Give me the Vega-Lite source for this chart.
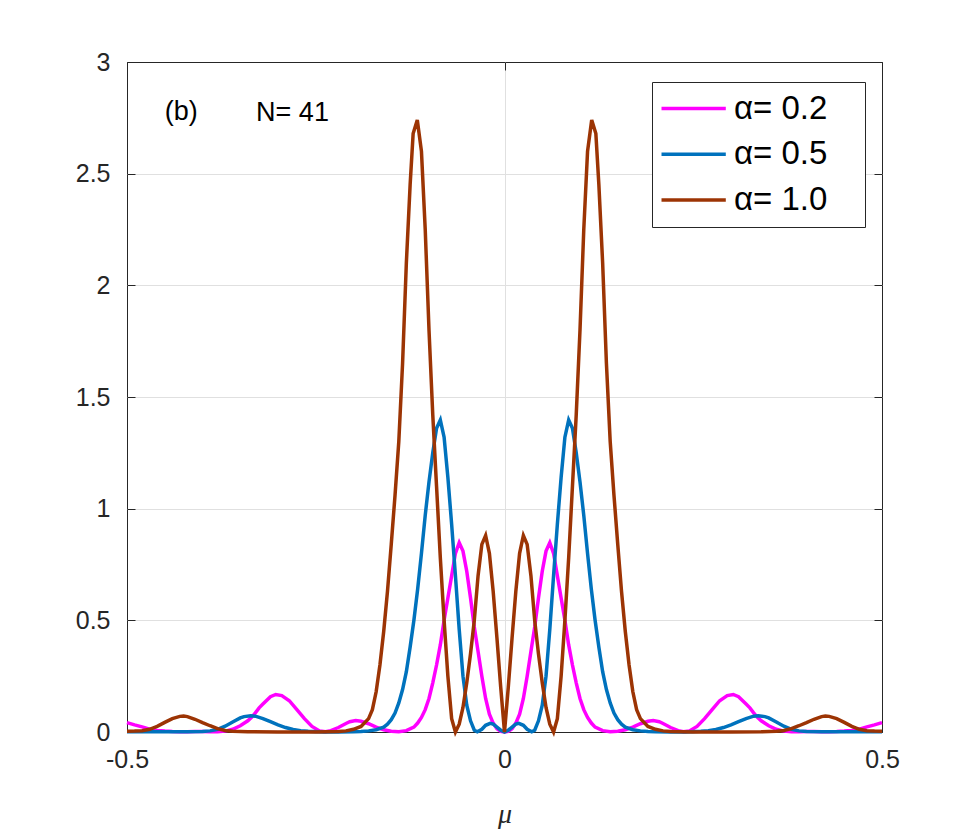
{
  "$schema": "https://vega.github.io/schema/vega-lite/v6.json",
  "width": 755,
  "height": 670,
  "autosize": {"type": "none"},
  "padding": {"left": 127, "top": 62, "right": 93, "bottom": 98},
  "background": "white",
  "config": {
    "view": {"stroke": "#262626", "strokeWidth": 1},
    "font": "Liberation Sans"
  },
  "data": {
    "values": [
      {"alpha": "α= 0.2", "mu": -0.5, "v": 0.042},
      {"alpha": "α= 0.2", "mu": -0.49, "v": 0.032},
      {"alpha": "α= 0.2", "mu": -0.48, "v": 0.023},
      {"alpha": "α= 0.2", "mu": -0.47, "v": 0.013},
      {"alpha": "α= 0.2", "mu": -0.46, "v": 0.007},
      {"alpha": "α= 0.2", "mu": -0.45, "v": 0.004},
      {"alpha": "α= 0.2", "mu": -0.44, "v": 0.002},
      {"alpha": "α= 0.2", "mu": -0.43, "v": 0.001},
      {"alpha": "α= 0.2", "mu": -0.42, "v": 0.001},
      {"alpha": "α= 0.2", "mu": -0.41, "v": 0.002},
      {"alpha": "α= 0.2", "mu": -0.4, "v": 0.002},
      {"alpha": "α= 0.2", "mu": -0.39, "v": 0.001},
      {"alpha": "α= 0.2", "mu": -0.38, "v": 0.001},
      {"alpha": "α= 0.2", "mu": -0.37, "v": 0.004},
      {"alpha": "α= 0.2", "mu": -0.36, "v": 0.012},
      {"alpha": "α= 0.2", "mu": -0.35, "v": 0.028},
      {"alpha": "α= 0.2", "mu": -0.34, "v": 0.05},
      {"alpha": "α= 0.2", "mu": -0.335, "v": 0.066},
      {"alpha": "α= 0.2", "mu": -0.33, "v": 0.086},
      {"alpha": "α= 0.2", "mu": -0.325, "v": 0.108},
      {"alpha": "α= 0.2", "mu": -0.32, "v": 0.125},
      {"alpha": "α= 0.2", "mu": -0.31, "v": 0.158},
      {"alpha": "α= 0.2", "mu": -0.303, "v": 0.168},
      {"alpha": "α= 0.2", "mu": -0.295, "v": 0.163},
      {"alpha": "α= 0.2", "mu": -0.285, "v": 0.14},
      {"alpha": "α= 0.2", "mu": -0.275, "v": 0.1},
      {"alpha": "α= 0.2", "mu": -0.265, "v": 0.06},
      {"alpha": "α= 0.2", "mu": -0.255, "v": 0.025},
      {"alpha": "α= 0.2", "mu": -0.245, "v": 0.005},
      {"alpha": "α= 0.2", "mu": -0.237, "v": 0.001},
      {"alpha": "α= 0.2", "mu": -0.23, "v": 0.006},
      {"alpha": "α= 0.2", "mu": -0.22, "v": 0.02},
      {"alpha": "α= 0.2", "mu": -0.21, "v": 0.038},
      {"alpha": "α= 0.2", "mu": -0.205, "v": 0.046},
      {"alpha": "α= 0.2", "mu": -0.197, "v": 0.051},
      {"alpha": "α= 0.2", "mu": -0.19, "v": 0.048},
      {"alpha": "α= 0.2", "mu": -0.18, "v": 0.037},
      {"alpha": "α= 0.2", "mu": -0.17, "v": 0.022},
      {"alpha": "α= 0.2", "mu": -0.16, "v": 0.01},
      {"alpha": "α= 0.2", "mu": -0.15, "v": 0.003},
      {"alpha": "α= 0.2", "mu": -0.14, "v": 0.001},
      {"alpha": "α= 0.2", "mu": -0.13, "v": 0.006},
      {"alpha": "α= 0.2", "mu": -0.12, "v": 0.022},
      {"alpha": "α= 0.2", "mu": -0.115, "v": 0.04},
      {"alpha": "α= 0.2", "mu": -0.11, "v": 0.065},
      {"alpha": "α= 0.2", "mu": -0.105, "v": 0.1},
      {"alpha": "α= 0.2", "mu": -0.1, "v": 0.15},
      {"alpha": "α= 0.2", "mu": -0.095, "v": 0.22},
      {"alpha": "α= 0.2", "mu": -0.09, "v": 0.3},
      {"alpha": "α= 0.2", "mu": -0.085, "v": 0.39},
      {"alpha": "α= 0.2", "mu": -0.08, "v": 0.5},
      {"alpha": "α= 0.2", "mu": -0.075, "v": 0.6},
      {"alpha": "α= 0.2", "mu": -0.07, "v": 0.7},
      {"alpha": "α= 0.2", "mu": -0.065, "v": 0.8},
      {"alpha": "α= 0.2", "mu": -0.06, "v": 0.848},
      {"alpha": "α= 0.2", "mu": -0.055, "v": 0.81},
      {"alpha": "α= 0.2", "mu": -0.05, "v": 0.72},
      {"alpha": "α= 0.2", "mu": -0.045, "v": 0.6},
      {"alpha": "α= 0.2", "mu": -0.04, "v": 0.47},
      {"alpha": "α= 0.2", "mu": -0.035, "v": 0.36},
      {"alpha": "α= 0.2", "mu": -0.03, "v": 0.25},
      {"alpha": "α= 0.2", "mu": -0.025, "v": 0.15},
      {"alpha": "α= 0.2", "mu": -0.02, "v": 0.08},
      {"alpha": "α= 0.2", "mu": -0.015, "v": 0.04},
      {"alpha": "α= 0.2", "mu": -0.01, "v": 0.015},
      {"alpha": "α= 0.2", "mu": -0.005, "v": 0.003},
      {"alpha": "α= 0.2", "mu": 0, "v": 0},
      {"alpha": "α= 0.2", "mu": 0.005, "v": 0.003},
      {"alpha": "α= 0.2", "mu": 0.01, "v": 0.015},
      {"alpha": "α= 0.2", "mu": 0.015, "v": 0.04},
      {"alpha": "α= 0.2", "mu": 0.02, "v": 0.08},
      {"alpha": "α= 0.2", "mu": 0.025, "v": 0.15},
      {"alpha": "α= 0.2", "mu": 0.03, "v": 0.25},
      {"alpha": "α= 0.2", "mu": 0.035, "v": 0.36},
      {"alpha": "α= 0.2", "mu": 0.04, "v": 0.47},
      {"alpha": "α= 0.2", "mu": 0.045, "v": 0.6},
      {"alpha": "α= 0.2", "mu": 0.05, "v": 0.72},
      {"alpha": "α= 0.2", "mu": 0.055, "v": 0.81},
      {"alpha": "α= 0.2", "mu": 0.06, "v": 0.848},
      {"alpha": "α= 0.2", "mu": 0.065, "v": 0.8},
      {"alpha": "α= 0.2", "mu": 0.07, "v": 0.7},
      {"alpha": "α= 0.2", "mu": 0.075, "v": 0.6},
      {"alpha": "α= 0.2", "mu": 0.08, "v": 0.5},
      {"alpha": "α= 0.2", "mu": 0.085, "v": 0.39},
      {"alpha": "α= 0.2", "mu": 0.09, "v": 0.3},
      {"alpha": "α= 0.2", "mu": 0.095, "v": 0.22},
      {"alpha": "α= 0.2", "mu": 0.1, "v": 0.15},
      {"alpha": "α= 0.2", "mu": 0.105, "v": 0.1},
      {"alpha": "α= 0.2", "mu": 0.11, "v": 0.065},
      {"alpha": "α= 0.2", "mu": 0.115, "v": 0.04},
      {"alpha": "α= 0.2", "mu": 0.12, "v": 0.022},
      {"alpha": "α= 0.2", "mu": 0.13, "v": 0.006},
      {"alpha": "α= 0.2", "mu": 0.14, "v": 0.001},
      {"alpha": "α= 0.2", "mu": 0.15, "v": 0.003},
      {"alpha": "α= 0.2", "mu": 0.16, "v": 0.01},
      {"alpha": "α= 0.2", "mu": 0.17, "v": 0.022},
      {"alpha": "α= 0.2", "mu": 0.18, "v": 0.037},
      {"alpha": "α= 0.2", "mu": 0.19, "v": 0.048},
      {"alpha": "α= 0.2", "mu": 0.197, "v": 0.051},
      {"alpha": "α= 0.2", "mu": 0.205, "v": 0.046},
      {"alpha": "α= 0.2", "mu": 0.21, "v": 0.038},
      {"alpha": "α= 0.2", "mu": 0.22, "v": 0.02},
      {"alpha": "α= 0.2", "mu": 0.23, "v": 0.006},
      {"alpha": "α= 0.2", "mu": 0.237, "v": 0.001},
      {"alpha": "α= 0.2", "mu": 0.245, "v": 0.005},
      {"alpha": "α= 0.2", "mu": 0.255, "v": 0.025},
      {"alpha": "α= 0.2", "mu": 0.265, "v": 0.06},
      {"alpha": "α= 0.2", "mu": 0.275, "v": 0.1},
      {"alpha": "α= 0.2", "mu": 0.285, "v": 0.14},
      {"alpha": "α= 0.2", "mu": 0.295, "v": 0.163},
      {"alpha": "α= 0.2", "mu": 0.303, "v": 0.168},
      {"alpha": "α= 0.2", "mu": 0.31, "v": 0.158},
      {"alpha": "α= 0.2", "mu": 0.32, "v": 0.125},
      {"alpha": "α= 0.2", "mu": 0.325, "v": 0.108},
      {"alpha": "α= 0.2", "mu": 0.33, "v": 0.086},
      {"alpha": "α= 0.2", "mu": 0.335, "v": 0.066},
      {"alpha": "α= 0.2", "mu": 0.34, "v": 0.05},
      {"alpha": "α= 0.2", "mu": 0.35, "v": 0.028},
      {"alpha": "α= 0.2", "mu": 0.36, "v": 0.012},
      {"alpha": "α= 0.2", "mu": 0.37, "v": 0.004},
      {"alpha": "α= 0.2", "mu": 0.38, "v": 0.001},
      {"alpha": "α= 0.2", "mu": 0.39, "v": 0.001},
      {"alpha": "α= 0.2", "mu": 0.4, "v": 0.002},
      {"alpha": "α= 0.2", "mu": 0.41, "v": 0.002},
      {"alpha": "α= 0.2", "mu": 0.42, "v": 0.001},
      {"alpha": "α= 0.2", "mu": 0.43, "v": 0.001},
      {"alpha": "α= 0.2", "mu": 0.44, "v": 0.002},
      {"alpha": "α= 0.2", "mu": 0.45, "v": 0.004},
      {"alpha": "α= 0.2", "mu": 0.46, "v": 0.007},
      {"alpha": "α= 0.2", "mu": 0.47, "v": 0.013},
      {"alpha": "α= 0.2", "mu": 0.48, "v": 0.023},
      {"alpha": "α= 0.2", "mu": 0.49, "v": 0.032},
      {"alpha": "α= 0.2", "mu": 0.5, "v": 0.042},

      {"alpha": "α= 0.5", "mu": -0.5, "v": 0.001},
      {"alpha": "α= 0.5", "mu": -0.45, "v": 0.001},
      {"alpha": "α= 0.5", "mu": -0.42, "v": 0.001},
      {"alpha": "α= 0.5", "mu": -0.4, "v": 0.002},
      {"alpha": "α= 0.5", "mu": -0.39, "v": 0.005},
      {"alpha": "α= 0.5", "mu": -0.38, "v": 0.012},
      {"alpha": "α= 0.5", "mu": -0.37, "v": 0.026},
      {"alpha": "α= 0.5", "mu": -0.36, "v": 0.045},
      {"alpha": "α= 0.5", "mu": -0.35, "v": 0.063},
      {"alpha": "α= 0.5", "mu": -0.345, "v": 0.069},
      {"alpha": "α= 0.5", "mu": -0.336, "v": 0.073},
      {"alpha": "α= 0.5", "mu": -0.33, "v": 0.071},
      {"alpha": "α= 0.5", "mu": -0.32, "v": 0.06},
      {"alpha": "α= 0.5", "mu": -0.31, "v": 0.046},
      {"alpha": "α= 0.5", "mu": -0.3, "v": 0.032},
      {"alpha": "α= 0.5", "mu": -0.29, "v": 0.02},
      {"alpha": "α= 0.5", "mu": -0.28, "v": 0.011},
      {"alpha": "α= 0.5", "mu": -0.27, "v": 0.006},
      {"alpha": "α= 0.5", "mu": -0.26, "v": 0.003},
      {"alpha": "α= 0.5", "mu": -0.24, "v": 0},
      {"alpha": "α= 0.5", "mu": -0.22, "v": 0},
      {"alpha": "α= 0.5", "mu": -0.2, "v": 0.001},
      {"alpha": "α= 0.5", "mu": -0.19, "v": 0.002},
      {"alpha": "α= 0.5", "mu": -0.18, "v": 0.005},
      {"alpha": "α= 0.5", "mu": -0.17, "v": 0.01},
      {"alpha": "α= 0.5", "mu": -0.16, "v": 0.022},
      {"alpha": "α= 0.5", "mu": -0.155, "v": 0.035},
      {"alpha": "α= 0.5", "mu": -0.15, "v": 0.055},
      {"alpha": "α= 0.5", "mu": -0.145, "v": 0.085},
      {"alpha": "α= 0.5", "mu": -0.14, "v": 0.13},
      {"alpha": "α= 0.5", "mu": -0.135, "v": 0.19},
      {"alpha": "α= 0.5", "mu": -0.13, "v": 0.27},
      {"alpha": "α= 0.5", "mu": -0.125, "v": 0.38},
      {"alpha": "α= 0.5", "mu": -0.12, "v": 0.5},
      {"alpha": "α= 0.5", "mu": -0.115, "v": 0.64},
      {"alpha": "α= 0.5", "mu": -0.11, "v": 0.8},
      {"alpha": "α= 0.5", "mu": -0.105, "v": 0.97},
      {"alpha": "α= 0.5", "mu": -0.1, "v": 1.12},
      {"alpha": "α= 0.5", "mu": -0.095, "v": 1.25},
      {"alpha": "α= 0.5", "mu": -0.09, "v": 1.36},
      {"alpha": "α= 0.5", "mu": -0.085, "v": 1.397},
      {"alpha": "α= 0.5", "mu": -0.08, "v": 1.32},
      {"alpha": "α= 0.5", "mu": -0.075, "v": 1.14},
      {"alpha": "α= 0.5", "mu": -0.07, "v": 0.93},
      {"alpha": "α= 0.5", "mu": -0.065, "v": 0.7},
      {"alpha": "α= 0.5", "mu": -0.06, "v": 0.46},
      {"alpha": "α= 0.5", "mu": -0.055, "v": 0.25},
      {"alpha": "α= 0.5", "mu": -0.05, "v": 0.12},
      {"alpha": "α= 0.5", "mu": -0.045, "v": 0.05},
      {"alpha": "α= 0.5", "mu": -0.04, "v": 0.008},
      {"alpha": "α= 0.5", "mu": -0.036, "v": 0.001},
      {"alpha": "α= 0.5", "mu": -0.03, "v": 0.012},
      {"alpha": "α= 0.5", "mu": -0.025, "v": 0.03},
      {"alpha": "α= 0.5", "mu": -0.019, "v": 0.039},
      {"alpha": "α= 0.5", "mu": -0.015, "v": 0.035},
      {"alpha": "α= 0.5", "mu": -0.01, "v": 0.022},
      {"alpha": "α= 0.5", "mu": -0.005, "v": 0.008},
      {"alpha": "α= 0.5", "mu": 0, "v": 0},
      {"alpha": "α= 0.5", "mu": 0.005, "v": 0.008},
      {"alpha": "α= 0.5", "mu": 0.01, "v": 0.022},
      {"alpha": "α= 0.5", "mu": 0.015, "v": 0.035},
      {"alpha": "α= 0.5", "mu": 0.019, "v": 0.039},
      {"alpha": "α= 0.5", "mu": 0.025, "v": 0.03},
      {"alpha": "α= 0.5", "mu": 0.03, "v": 0.012},
      {"alpha": "α= 0.5", "mu": 0.036, "v": 0.001},
      {"alpha": "α= 0.5", "mu": 0.04, "v": 0.008},
      {"alpha": "α= 0.5", "mu": 0.045, "v": 0.05},
      {"alpha": "α= 0.5", "mu": 0.05, "v": 0.12},
      {"alpha": "α= 0.5", "mu": 0.055, "v": 0.25},
      {"alpha": "α= 0.5", "mu": 0.06, "v": 0.46},
      {"alpha": "α= 0.5", "mu": 0.065, "v": 0.7},
      {"alpha": "α= 0.5", "mu": 0.07, "v": 0.93},
      {"alpha": "α= 0.5", "mu": 0.075, "v": 1.14},
      {"alpha": "α= 0.5", "mu": 0.08, "v": 1.32},
      {"alpha": "α= 0.5", "mu": 0.085, "v": 1.397},
      {"alpha": "α= 0.5", "mu": 0.09, "v": 1.36},
      {"alpha": "α= 0.5", "mu": 0.095, "v": 1.25},
      {"alpha": "α= 0.5", "mu": 0.1, "v": 1.12},
      {"alpha": "α= 0.5", "mu": 0.105, "v": 0.97},
      {"alpha": "α= 0.5", "mu": 0.11, "v": 0.8},
      {"alpha": "α= 0.5", "mu": 0.115, "v": 0.64},
      {"alpha": "α= 0.5", "mu": 0.12, "v": 0.5},
      {"alpha": "α= 0.5", "mu": 0.125, "v": 0.38},
      {"alpha": "α= 0.5", "mu": 0.13, "v": 0.27},
      {"alpha": "α= 0.5", "mu": 0.135, "v": 0.19},
      {"alpha": "α= 0.5", "mu": 0.14, "v": 0.13},
      {"alpha": "α= 0.5", "mu": 0.145, "v": 0.085},
      {"alpha": "α= 0.5", "mu": 0.15, "v": 0.055},
      {"alpha": "α= 0.5", "mu": 0.155, "v": 0.035},
      {"alpha": "α= 0.5", "mu": 0.16, "v": 0.022},
      {"alpha": "α= 0.5", "mu": 0.17, "v": 0.01},
      {"alpha": "α= 0.5", "mu": 0.18, "v": 0.005},
      {"alpha": "α= 0.5", "mu": 0.19, "v": 0.002},
      {"alpha": "α= 0.5", "mu": 0.2, "v": 0.001},
      {"alpha": "α= 0.5", "mu": 0.22, "v": 0},
      {"alpha": "α= 0.5", "mu": 0.24, "v": 0},
      {"alpha": "α= 0.5", "mu": 0.26, "v": 0.003},
      {"alpha": "α= 0.5", "mu": 0.27, "v": 0.006},
      {"alpha": "α= 0.5", "mu": 0.28, "v": 0.011},
      {"alpha": "α= 0.5", "mu": 0.29, "v": 0.02},
      {"alpha": "α= 0.5", "mu": 0.3, "v": 0.032},
      {"alpha": "α= 0.5", "mu": 0.31, "v": 0.046},
      {"alpha": "α= 0.5", "mu": 0.32, "v": 0.06},
      {"alpha": "α= 0.5", "mu": 0.33, "v": 0.071},
      {"alpha": "α= 0.5", "mu": 0.336, "v": 0.073},
      {"alpha": "α= 0.5", "mu": 0.345, "v": 0.069},
      {"alpha": "α= 0.5", "mu": 0.35, "v": 0.063},
      {"alpha": "α= 0.5", "mu": 0.36, "v": 0.045},
      {"alpha": "α= 0.5", "mu": 0.37, "v": 0.026},
      {"alpha": "α= 0.5", "mu": 0.38, "v": 0.012},
      {"alpha": "α= 0.5", "mu": 0.39, "v": 0.005},
      {"alpha": "α= 0.5", "mu": 0.4, "v": 0.002},
      {"alpha": "α= 0.5", "mu": 0.42, "v": 0.001},
      {"alpha": "α= 0.5", "mu": 0.45, "v": 0.001},
      {"alpha": "α= 0.5", "mu": 0.5, "v": 0.001},

      {"alpha": "α= 1.0", "mu": -0.5, "v": 0.003},
      {"alpha": "α= 1.0", "mu": -0.49, "v": 0.004},
      {"alpha": "α= 1.0", "mu": -0.48, "v": 0.006},
      {"alpha": "α= 1.0", "mu": -0.47, "v": 0.012},
      {"alpha": "α= 1.0", "mu": -0.46, "v": 0.025},
      {"alpha": "α= 1.0", "mu": -0.45, "v": 0.043},
      {"alpha": "α= 1.0", "mu": -0.44, "v": 0.06},
      {"alpha": "α= 1.0", "mu": -0.43, "v": 0.07},
      {"alpha": "α= 1.0", "mu": -0.425, "v": 0.072},
      {"alpha": "α= 1.0", "mu": -0.42, "v": 0.069},
      {"alpha": "α= 1.0", "mu": -0.41, "v": 0.057},
      {"alpha": "α= 1.0", "mu": -0.4, "v": 0.042},
      {"alpha": "α= 1.0", "mu": -0.39, "v": 0.028},
      {"alpha": "α= 1.0", "mu": -0.38, "v": 0.015},
      {"alpha": "α= 1.0", "mu": -0.37, "v": 0.007},
      {"alpha": "α= 1.0", "mu": -0.36, "v": 0.003},
      {"alpha": "α= 1.0", "mu": -0.34, "v": 0.001},
      {"alpha": "α= 1.0", "mu": -0.3, "v": 0},
      {"alpha": "α= 1.0", "mu": -0.25, "v": 0},
      {"alpha": "α= 1.0", "mu": -0.22, "v": 0.002},
      {"alpha": "α= 1.0", "mu": -0.21, "v": 0.005},
      {"alpha": "α= 1.0", "mu": -0.2, "v": 0.012},
      {"alpha": "α= 1.0", "mu": -0.19, "v": 0.025},
      {"alpha": "α= 1.0", "mu": -0.18, "v": 0.06},
      {"alpha": "α= 1.0", "mu": -0.175, "v": 0.1},
      {"alpha": "α= 1.0", "mu": -0.17, "v": 0.18},
      {"alpha": "α= 1.0", "mu": -0.165, "v": 0.3},
      {"alpha": "α= 1.0", "mu": -0.16, "v": 0.45},
      {"alpha": "α= 1.0", "mu": -0.155, "v": 0.63},
      {"alpha": "α= 1.0", "mu": -0.15, "v": 0.84},
      {"alpha": "α= 1.0", "mu": -0.145, "v": 1.06},
      {"alpha": "α= 1.0", "mu": -0.14, "v": 1.3},
      {"alpha": "α= 1.0", "mu": -0.135, "v": 1.65},
      {"alpha": "α= 1.0", "mu": -0.13, "v": 2.1},
      {"alpha": "α= 1.0", "mu": -0.125, "v": 2.45},
      {"alpha": "α= 1.0", "mu": -0.121, "v": 2.68},
      {"alpha": "α= 1.0", "mu": -0.1155, "v": 2.74},
      {"alpha": "α= 1.0", "mu": -0.11, "v": 2.6},
      {"alpha": "α= 1.0", "mu": -0.105, "v": 2.25},
      {"alpha": "α= 1.0", "mu": -0.1, "v": 1.8},
      {"alpha": "α= 1.0", "mu": -0.095, "v": 1.42},
      {"alpha": "α= 1.0", "mu": -0.09, "v": 1.1},
      {"alpha": "α= 1.0", "mu": -0.085, "v": 0.78},
      {"alpha": "α= 1.0", "mu": -0.08, "v": 0.5},
      {"alpha": "α= 1.0", "mu": -0.075, "v": 0.25},
      {"alpha": "α= 1.0", "mu": -0.07, "v": 0.06},
      {"alpha": "α= 1.0", "mu": -0.065, "v": 0},
      {"alpha": "α= 1.0", "mu": -0.06, "v": 0.035},
      {"alpha": "α= 1.0", "mu": -0.055, "v": 0.11},
      {"alpha": "α= 1.0", "mu": -0.05, "v": 0.22},
      {"alpha": "α= 1.0", "mu": -0.045, "v": 0.35},
      {"alpha": "α= 1.0", "mu": -0.04, "v": 0.5},
      {"alpha": "α= 1.0", "mu": -0.035, "v": 0.7},
      {"alpha": "α= 1.0", "mu": -0.03, "v": 0.84},
      {"alpha": "α= 1.0", "mu": -0.025, "v": 0.88},
      {"alpha": "α= 1.0", "mu": -0.02, "v": 0.8},
      {"alpha": "α= 1.0", "mu": -0.015, "v": 0.63},
      {"alpha": "α= 1.0", "mu": -0.01, "v": 0.42},
      {"alpha": "α= 1.0", "mu": -0.005, "v": 0.2},
      {"alpha": "α= 1.0", "mu": 0, "v": 0},
      {"alpha": "α= 1.0", "mu": 0.005, "v": 0.2},
      {"alpha": "α= 1.0", "mu": 0.01, "v": 0.42},
      {"alpha": "α= 1.0", "mu": 0.015, "v": 0.63},
      {"alpha": "α= 1.0", "mu": 0.02, "v": 0.8},
      {"alpha": "α= 1.0", "mu": 0.025, "v": 0.88},
      {"alpha": "α= 1.0", "mu": 0.03, "v": 0.84},
      {"alpha": "α= 1.0", "mu": 0.035, "v": 0.7},
      {"alpha": "α= 1.0", "mu": 0.04, "v": 0.5},
      {"alpha": "α= 1.0", "mu": 0.045, "v": 0.35},
      {"alpha": "α= 1.0", "mu": 0.05, "v": 0.22},
      {"alpha": "α= 1.0", "mu": 0.055, "v": 0.11},
      {"alpha": "α= 1.0", "mu": 0.06, "v": 0.035},
      {"alpha": "α= 1.0", "mu": 0.065, "v": 0},
      {"alpha": "α= 1.0", "mu": 0.07, "v": 0.06},
      {"alpha": "α= 1.0", "mu": 0.075, "v": 0.25},
      {"alpha": "α= 1.0", "mu": 0.08, "v": 0.5},
      {"alpha": "α= 1.0", "mu": 0.085, "v": 0.78},
      {"alpha": "α= 1.0", "mu": 0.09, "v": 1.1},
      {"alpha": "α= 1.0", "mu": 0.095, "v": 1.42},
      {"alpha": "α= 1.0", "mu": 0.1, "v": 1.8},
      {"alpha": "α= 1.0", "mu": 0.105, "v": 2.25},
      {"alpha": "α= 1.0", "mu": 0.11, "v": 2.6},
      {"alpha": "α= 1.0", "mu": 0.1155, "v": 2.74},
      {"alpha": "α= 1.0", "mu": 0.121, "v": 2.68},
      {"alpha": "α= 1.0", "mu": 0.125, "v": 2.45},
      {"alpha": "α= 1.0", "mu": 0.13, "v": 2.1},
      {"alpha": "α= 1.0", "mu": 0.135, "v": 1.65},
      {"alpha": "α= 1.0", "mu": 0.14, "v": 1.3},
      {"alpha": "α= 1.0", "mu": 0.145, "v": 1.06},
      {"alpha": "α= 1.0", "mu": 0.15, "v": 0.84},
      {"alpha": "α= 1.0", "mu": 0.155, "v": 0.63},
      {"alpha": "α= 1.0", "mu": 0.16, "v": 0.45},
      {"alpha": "α= 1.0", "mu": 0.165, "v": 0.3},
      {"alpha": "α= 1.0", "mu": 0.17, "v": 0.18},
      {"alpha": "α= 1.0", "mu": 0.175, "v": 0.1},
      {"alpha": "α= 1.0", "mu": 0.18, "v": 0.06},
      {"alpha": "α= 1.0", "mu": 0.19, "v": 0.025},
      {"alpha": "α= 1.0", "mu": 0.2, "v": 0.012},
      {"alpha": "α= 1.0", "mu": 0.21, "v": 0.005},
      {"alpha": "α= 1.0", "mu": 0.22, "v": 0.002},
      {"alpha": "α= 1.0", "mu": 0.25, "v": 0},
      {"alpha": "α= 1.0", "mu": 0.3, "v": 0},
      {"alpha": "α= 1.0", "mu": 0.34, "v": 0.001},
      {"alpha": "α= 1.0", "mu": 0.36, "v": 0.003},
      {"alpha": "α= 1.0", "mu": 0.37, "v": 0.007},
      {"alpha": "α= 1.0", "mu": 0.38, "v": 0.015},
      {"alpha": "α= 1.0", "mu": 0.39, "v": 0.028},
      {"alpha": "α= 1.0", "mu": 0.4, "v": 0.042},
      {"alpha": "α= 1.0", "mu": 0.41, "v": 0.057},
      {"alpha": "α= 1.0", "mu": 0.42, "v": 0.069},
      {"alpha": "α= 1.0", "mu": 0.425, "v": 0.072},
      {"alpha": "α= 1.0", "mu": 0.43, "v": 0.07},
      {"alpha": "α= 1.0", "mu": 0.44, "v": 0.06},
      {"alpha": "α= 1.0", "mu": 0.45, "v": 0.043},
      {"alpha": "α= 1.0", "mu": 0.46, "v": 0.025},
      {"alpha": "α= 1.0", "mu": 0.47, "v": 0.012},
      {"alpha": "α= 1.0", "mu": 0.48, "v": 0.006},
      {"alpha": "α= 1.0", "mu": 0.49, "v": 0.004},
      {"alpha": "α= 1.0", "mu": 0.5, "v": 0.003}
    ]
  },
  "resolve": {"axis": {"x": "independent", "y": "independent"}},
  "layer": [
    {
      "mark": {"type": "line", "strokeWidth": 3.5, "interpolate": "linear"},
      "encoding": {
        "x": {
          "field": "mu", "type": "quantitative",
          "scale": {"domain": [-0.5, 0.5], "nice": false, "zero": false},
          "axis": {
            "values": [-0.5, 0, 0.5],
            "format": "~g",
            "labelExpr": "replace(datum.label, '−', '-')",
            "grid": true,
            "gridColor": "#e0e0e0",
            "gridOpacity": {"condition": {"test": "abs(datum.value) == 0.5", "value": 0}, "value": 1},
            "domain": false,
            "ticks": true, "tickSize": -8, "tickColor": "#262626",
            "labelFont": "Liberation Sans", "labelFontSize": 25, "labelColor": "#262626",
            "labelPadding": 23, "labelFlush": false,
            "title": "μ",
            "titleFont": "Liberation Serif", "titleFontStyle": "italic", "titleFontWeight": "normal",
            "titleFontSize": 28, "titleColor": "#262626", "titlePadding": 28
          }
        },
        "y": {
          "field": "v", "type": "quantitative",
          "scale": {"domain": [0, 3], "nice": false},
          "axis": {
            "values": [0, 0.5, 1, 1.5, 2, 2.5, 3],
            "format": "~g",
            "grid": true,
            "gridColor": "#e0e0e0",
            "gridOpacity": {"condition": {"test": "datum.value == 0 || datum.value == 3", "value": 0}, "value": 1},
            "domain": false,
            "ticks": true, "tickSize": -8, "tickColor": "#262626",
            "labelFont": "Liberation Sans", "labelFontSize": 25, "labelColor": "#262626",
            "labelPadding": 25,
            "title": null
          }
        },
        "color": {
          "field": "alpha", "type": "nominal",
          "scale": {"domain": ["α= 0.2", "α= 0.5", "α= 1.0"], "range": ["#FF00FF", "#0072BD", "#9C3404"]},
          "legend": {
            "orient": "none", "legendX": 525, "legendY": 20,
            "title": null,
            "symbolType": "M-1.545,0H4.3",
            "symbolSize": 484,
            "symbolStrokeWidth": 3.5,
            "labelOffset": 39,
            "labelFont": "Liberation Sans", "labelFontSize": 33, "labelColor": "black",
            "labelExpr": "datum.label + '\u00a0\u00a0\u00a0\u200b'",
            "padding": 10, "rowPadding": 11.7,
            "strokeColor": "#262626", "fillColor": "white"
          }
        }
      }
    },
    {
      "data": {"values": [{}]},
      "mark": {"type": "point", "opacity": 0},
      "encoding": {
        "x": {"datum": 0, "type": "quantitative",
          "axis": {"orient": "top", "values": [-0.5, 0, 0.5], "labels": false, "grid": false, "domain": false,
                   "ticks": true, "tickSize": -8, "tickColor": "#262626", "title": null}},
        "y": {"datum": 0, "type": "quantitative",
          "axis": {"orient": "right", "values": [0, 0.5, 1, 1.5, 2, 2.5, 3], "labels": false, "grid": false, "domain": false,
                   "ticks": true, "tickSize": -8, "tickColor": "#262626", "title": null}}
      }
    },
    {
      "data": {"values": [{}]},
      "mark": {"type": "text", "text": "(b)", "font": "Liberation Sans", "fontSize": 27, "align": "center", "baseline": "middle", "color": "black"},
      "encoding": {
        "x": {"datum": -0.428, "type": "quantitative", "axis": null},
        "y": {"datum": 2.777, "type": "quantitative", "axis": null}
      }
    },
    {
      "data": {"values": [{}]},
      "mark": {"type": "text", "text": "N= 41", "font": "Liberation Sans", "fontSize": 27, "align": "left", "baseline": "middle", "color": "black"},
      "encoding": {
        "x": {"datum": -0.329, "type": "quantitative", "axis": null},
        "y": {"datum": 2.77, "type": "quantitative", "axis": null}
      }
    }
  ]
}
